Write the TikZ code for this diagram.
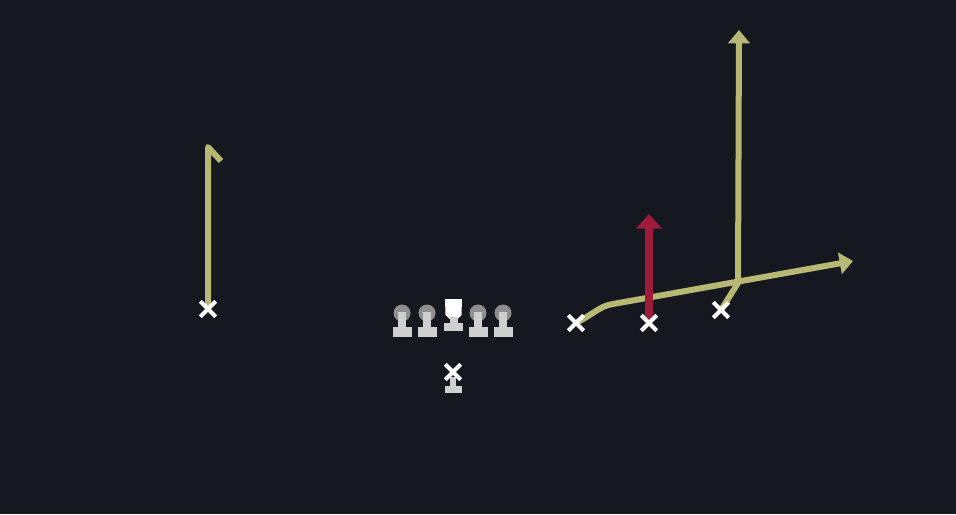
\documentclass[tikz,border=0pt]{standalone}
\usetikzlibrary{arrows.meta,shapes.misc}
\definecolor{bg}{HTML}{15181F}
\definecolor{yroute}{HTML}{B7B874}
\definecolor{rroute}{HTML}{9E1B3B}
\definecolor{headgrey}{HTML}{8E8E8E}
\definecolor{bodygrey}{HTML}{CFCFCF}
\tikzset{
  xmark/.style={cross out, draw=white, line width=3pt, minimum size=8.5pt, inner sep=0pt},
  yline/.style={draw=yroute, line width=4.5pt, line join=round},
  yarrow/.style={yline, -{Triangle[width=16pt,length=10pt]}},
  rarrow/.style={draw=rroute, line width=6.5pt, -{Triangle[width=19pt,length=11pt]}},
  pics/lineman/.style={code={
    \fill[headgrey] (0,-5) circle (8.5);
    \fill[bodygrey] (-4,-6) rectangle (4,9);
    \fill[bodygrey] (-9.5,9) rectangle (9.5,19);
  }},
  pics/center/.style={code={
    \fill[white] (-8.5,-14) -- (8.5,-14) -- (8,2) -- (4,6) -- (-4,6) -- (-8,2) -- cycle;
    \fill[bodygrey] (-4,4) rectangle (4,10);
    \fill[bodygrey] (-9.5,10) rectangle (9.5,18);
  }},
  pics/qbbase/.style={code={
    \fill[bodygrey] (-3,4) rectangle (3,13);
    \fill[bodygrey] (-8.5,13) rectangle (8.5,20);
  }}
}
\begin{document}
\begin{tikzpicture}[x=0.75pt,y=-0.75pt]
\fill[bg] (0,0) rectangle (956,514);
\useasboundingbox (0,0) rectangle (956,514);
% offensive line
\pic at (402,318) {lineman};
\pic at (427,318) {lineman};
\pic at (453.5,313) {center};
\pic at (478,318) {lineman};
\pic at (503,318) {lineman};
% QB
\pic at (453,373) {qbbase};
\node[xmark] (qb) at (453,372) {};
% receivers
\coordinate (lt) at (208,147);
\coordinate (lh) at (221,161);
\draw[yline] (208,309) -- (lt) -- (lh);
\node[xmark] (wr1) at (208,309) {};

\coordinate (c1) at (613,304);
\coordinate (rt) at (853,261);
\draw[yarrow] (576,323) .. controls (595,313) and (600,306) .. (c1) -- (rt);
\coordinate (cross) at (738,283);
\coordinate (top) at (739,30);
\draw[yarrow] (721,310) -- (cross) -- (top);
\draw[rarrow] (649,322) -- (649,214);
\node[xmark] (wr2) at (576,323) {};
\node[xmark] (wr3) at (649,323) {};
\node[xmark] (wr4) at (721,310) {};
\end{tikzpicture}
\end{document}
